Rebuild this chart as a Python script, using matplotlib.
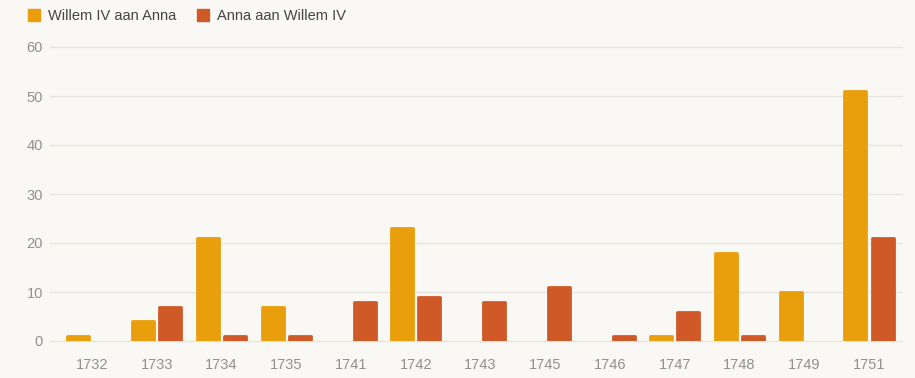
import matplotlib.pyplot as plt
from matplotlib.patches import Patch
import numpy as np

# --- DATA ---
years = ['1732', '1733', '1734', '1735', '1741', '1742', '1743',
         '1745', '1746', '1747', '1748', '1749', '1751']
willem_aan_anna = [1, 4, 21, 7, 0, 23, 0, 0, 0, 1, 18, 10, 51]
anna_aan_willem = [0, 7, 1, 1, 8, 9, 8, 11, 1, 6, 1, 0, 21]

YELLOW = '#E89F0B'
RED = '#CF5A28'
BG = '#FAF8F4'
GREY = '#909090'

plt.rcParams['font.family'] = ['Liberation Sans', 'DejaVu Sans']

fig = plt.figure(figsize=(9.15, 3.78), dpi=100, facecolor=BG)
ax = fig.add_axes([50 / 915, 37 / 378, 852 / 915, 294 / 378], facecolor=BG)

x = np.arange(len(years))
w = 0.34
off = 0.21
for vals, col, sgn in [(willem_aan_anna, YELLOW, -1), (anna_aan_willem, RED, 1)]:
    for xi, v in zip(x, vals):
        if v <= 0:
            continue
        ax.bar(xi + sgn * off, v, width=w, color=col, edgecolor=col,
               linewidth=2, joinstyle='round', zorder=3)

ax.set_xlim(-0.65, 12.51)
ax.set_ylim(0, 60)
ax.set_yticks(range(0, 61, 10))
ax.grid(axis='y', color='#E6E4DF', linewidth=1, zorder=0)
for s in ax.spines.values():
    s.set_visible(False)
ax.tick_params(axis='y', length=0, pad=5, labelsize=10.5, labelcolor=GREY)
ax.set_xticks(x)
ax.set_xticklabels(years)
ax.tick_params(axis='x', length=0, pad=12, labelsize=10.5, labelcolor=GREY)
for gl in ax.get_ygridlines():
    gl.set_clip_on(False)

handles = [Patch(facecolor=YELLOW, edgecolor=YELLOW, label='Willem IV aan Anna'),
           Patch(facecolor=RED, edgecolor=RED, label='Anna aan Willem IV'),]
fig.legend(handles=handles, loc='upper left', bbox_to_anchor=(0.016, 1.01),
           ncol=2, frameon=False, fontsize=10.5, handlelength=0.85,
           handleheight=0.85, handletextpad=0.55, columnspacing=1.4,
           labelcolor='#444444')

fig.savefig('out.png', dpi=100, facecolor=BG)
